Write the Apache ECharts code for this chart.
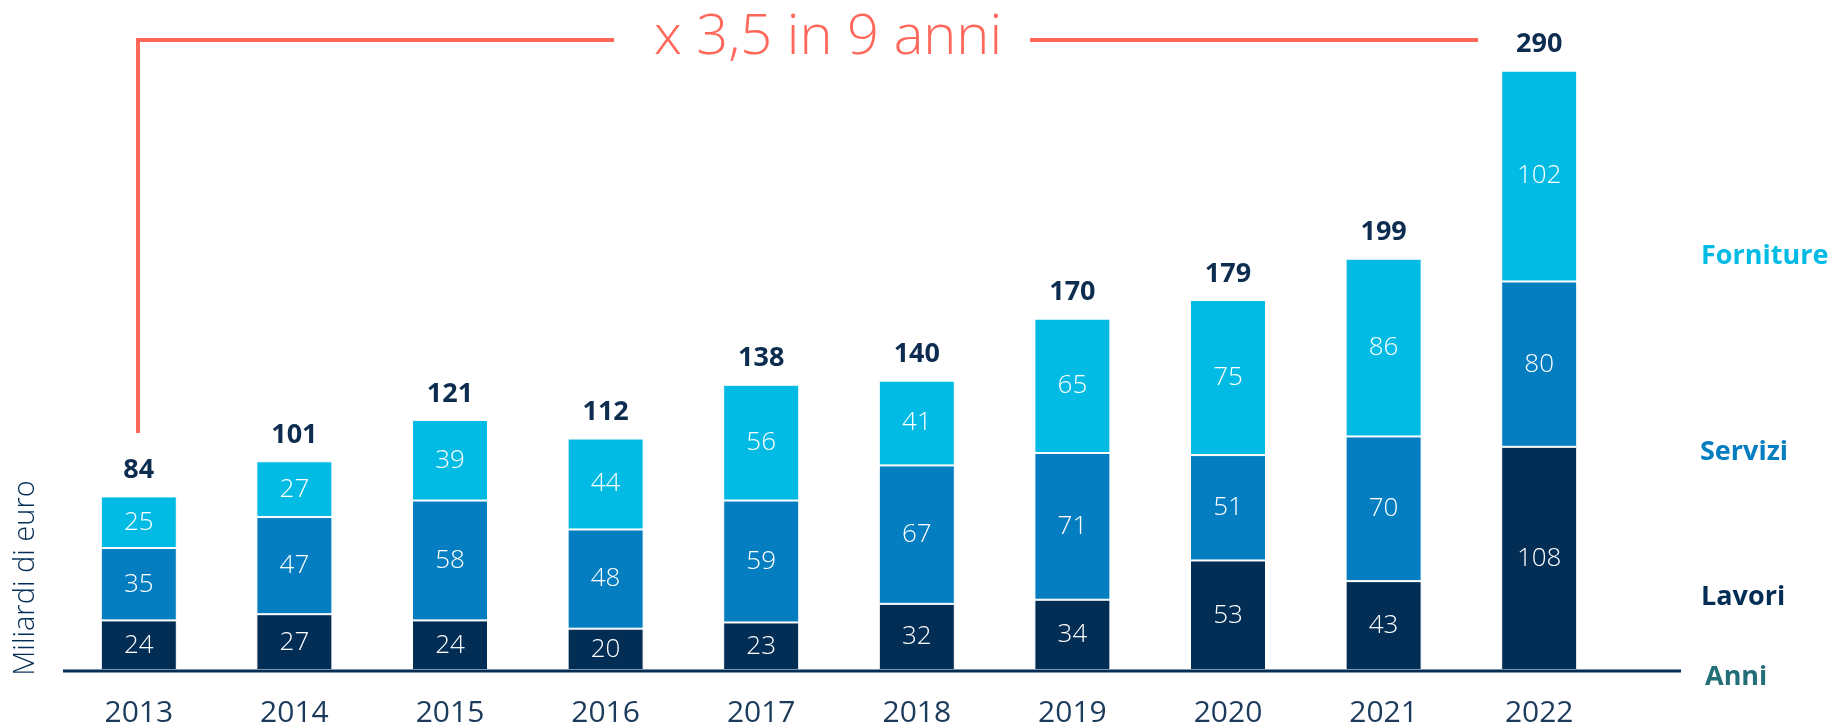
<!DOCTYPE html>
<html><head><meta charset="utf-8">
<script src="https://cdn.jsdelivr.net/npm/echarts@6/dist/echarts.min.js"></script>
<style>html,body{margin:0;padding:0;background:#fff}#c{width:1835px;height:728px}</style>
</head><body><div id="c"></div>
<script>
const years = ['2013','2014','2015','2016','2017','2018','2019','2020','2021','2022'];
const lavori = [24,27,24,20,23,32,34,53,43,108];
const servizi = [35,47,58,48,59,67,71,51,70,80];
const forniture = [25,27,39,44,56,41,65,75,86,102];
const totali = [84,101,121,112,138,140,170,179,199,290];

const NAVY = '#022d55', MID = '#047dc1', LIGHT = '#02bbe5', RED = '#ff675b', TEAL = '#236e77';
const FONT = 'Open Sans';
const chart = echarts.init(document.getElementById('c'));
const inner = {show:true, position:'inside', color:'#fff', fontFamily:FONT, fontWeight:300, fontSize:26};
function seg(name, data, color){
  return {name, type:'bar', stack:'t', data, barWidth:76,
    itemStyle:{color, borderColor:'#fff', borderWidth:1}, label:inner, silent:true};
}
chart.setOption({
  animation:false,
  grid:{left:61, width:1556, top:50, bottom:57},
  xAxis:{type:'category', data:years, axisTick:{show:false},
    axisLine:{show:false},
    axisLabel:{color:'#1b3a5c', fontFamily:FONT, fontSize:30, margin:28}},
  yAxis:{type:'value', min:0, max:300, show:false},
  series:[
    seg('Lavori', lavori, NAVY),
    seg('Servizi', servizi, MID),
    seg('Forniture', forniture, LIGHT),
    {name:'Totale', type:'line', data:totali, symbol:'circle', symbolSize:1, showSymbol:true,
      itemStyle:{color:'rgba(0,0,0,0)'}, lineStyle:{opacity:0}, silent:true,
      label:{show:true, position:'top', distance:12, color:'#0d2d50', fontFamily:FONT, fontWeight:'bold', fontSize:27}}
  ],
  graphic:[
    {type:'line', z:100, shape:{x1:63,y1:671,x2:1681,y2:671}, style:{stroke:NAVY, lineWidth:3}},
    {type:'polyline', shape:{points:[[138,433],[138,40],[614,40]]}, style:{stroke:RED, lineWidth:4, fill:null}},
    {type:'line', shape:{x1:1030,y1:40,x2:1478,y2:40}, style:{stroke:RED, lineWidth:4}},
    {type:'text', x:828, y:38, style:{text:'x 3,5 in 9 anni', fill:RED, font:'300 56px "Open Sans"', textAlign:'center', textVerticalAlign:'middle'}},
    {type:'text', x:26, y:578, rotation:Math.PI/2, style:{text:'Miliardi di euro', fill:NAVY, font:'300 29px "Open Sans"', textAlign:'center', textVerticalAlign:'middle'}},
    {type:'text', x:1701, y:256, style:{text:'Forniture', fill:LIGHT, font:'bold 27px "Open Sans"', textVerticalAlign:'middle'}},
    {type:'text', x:1700, y:452, style:{text:'Servizi', fill:MID, font:'bold 27px "Open Sans"', textVerticalAlign:'middle'}},
    {type:'text', x:1701, y:597, style:{text:'Lavori', fill:NAVY, font:'bold 27px "Open Sans"', textVerticalAlign:'middle'}},
    {type:'text', x:1705, y:677, style:{text:'Anni', fill:TEAL, font:'bold 27px "Open Sans"', textVerticalAlign:'middle'}}
  ]
});
</script></body></html>
